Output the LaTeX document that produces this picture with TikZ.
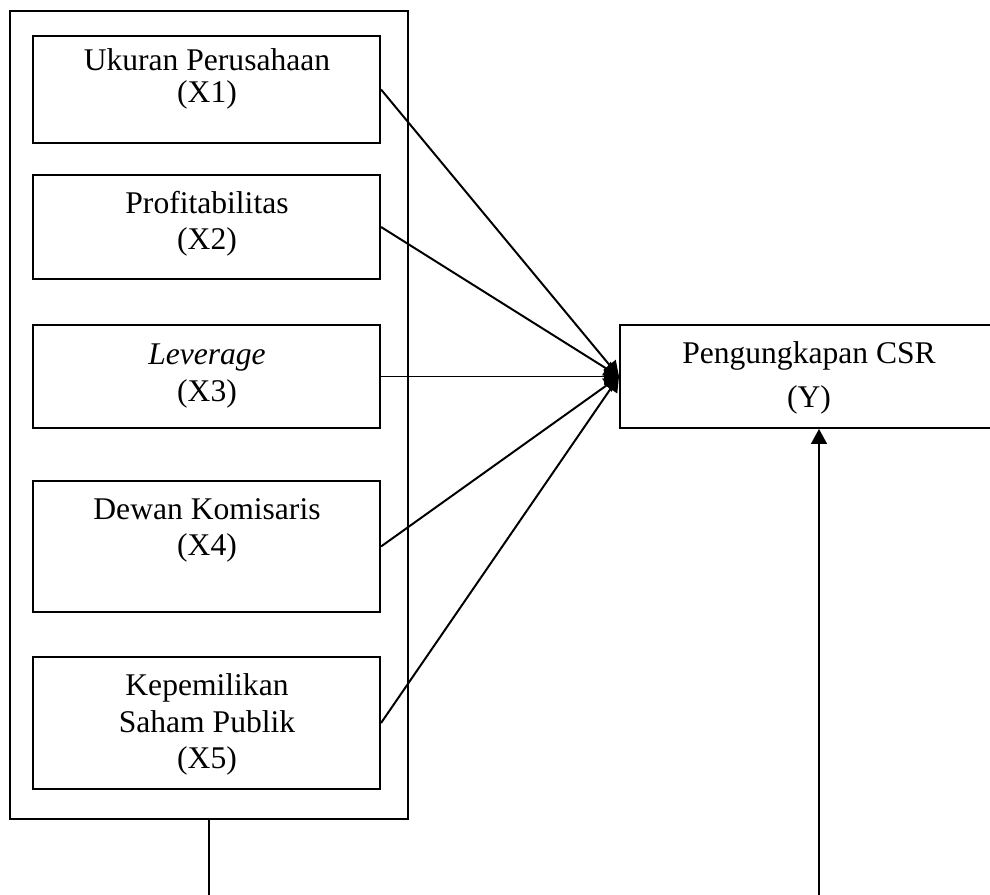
\documentclass[tikz,border=0pt]{standalone}
\usepackage{fontspec}
\setmainfont{Liberation Serif}
\usepackage{tikz}
\usetikzlibrary{arrows.meta, positioning}

\begin{document}
\begin{tikzpicture}[
  x=0.38pt, y=-0.38pt,
  box/.style={rectangle, draw, line width=0.75pt, inner sep=0pt, minimum width=131.9pt},
  txt/.style={align=center, inner sep=0pt, font=\fontsize{12pt}{13.9pt}\selectfont},
  arrow/.style={-{Triangle[length=5.7pt, width=6pt]}, line width=0.75pt}
]
\useasboundingbox (0,0) rectangle (990,895);
% independent variables
\node[box, minimum width=151.2pt, minimum height=307pt] (outer) at (209,415) {};
\node[box, minimum height=40.7pt] (x1) at (206.5,89.5) {};
\node[box, minimum height=39.5pt] (x2) at (206.5,227) {};
\node[box, minimum height=39.1pt] (x3) at (206.5,376.5) {};
\node[box, minimum height=49.8pt] (x4) at (206.5,546.5) {};
\node[box, minimum height=50.2pt] (x5) at (206.5,723) {};
\node[txt, font=\fontsize{12pt}{12pt}\selectfont] (x1t) at (207,78.8) {Ukuran Perusahaan\\(X1)};
\node[txt] (x2t) at (207,223.8) {Profitabilitas\\(X2)};
\node[txt] (x3t) at (207,375.8) {\textit{Leverage}\\(X3)};
\node[txt] (x4t) at (207,530.3) {Dewan Komisaris\\(X4)};
\node[txt] (x5t) at (207,724.6) {Kepemilikan\\Saham Publik\\(X5)};
% dependent variable
\node[box, minimum width=142.5pt, minimum height=39.1pt] (y) at (807.5,376.5) {};
\node[txt, font=\fontsize{12pt}{16.6pt}\selectfont] (yt) at (809,377.8) {Pengungkapan CSR\\(Y)};
\coordinate (lbot) at (208,900);
\coordinate (rbot) at (819,900);
\foreach \v in {x1,x2,x3,x4,x5}
  \draw[arrow] (\v.east) -- (y.west);
\draw[line width=0.75pt] (outer.south) -- (outer.south |- lbot);
\draw[arrow] (rbot) -- (rbot |- y.south);
\end{tikzpicture}
\end{document}
